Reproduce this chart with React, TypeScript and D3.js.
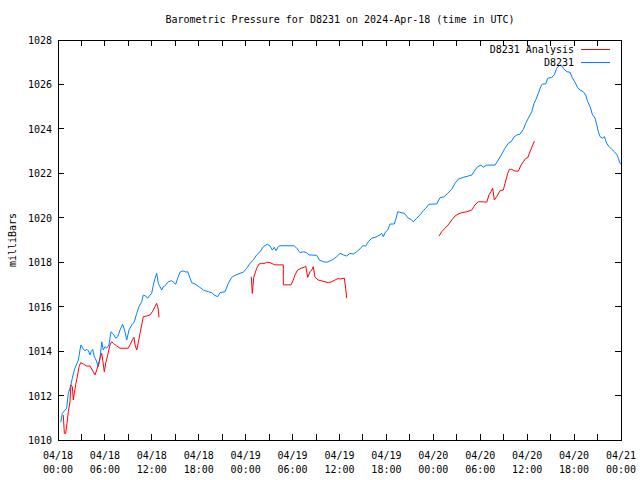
import React from 'react'
import * as d3 from 'd3'

// hours since 2024-04-18 00:00 UTC, station record
const stationHours = [
  0.35, 0.55, 0.9, 1.11, 1.32, 1.62, 1.83, 2.08, 2.39, 2.6, 2.81, 2.94, 3.24, 3.45, 3.71, 3.88, 4.09, 4.22, 4.44, 4.64,
  4.86, 5.15, 5.37, 5.59, 5.79, 6.01, 6.23, 6.52, 6.78, 7.07, 7.38, 7.64, 7.93, 8.27, 8.57, 8.79, 9.08, 9.43, 9.76, 10.07,
  10.36, 10.7, 10.91, 11.22, 11.47, 11.77, 11.98, 12.19, 12.41, 12.62, 12.83, 13.04, 13.26, 13.47, 13.59, 14.11, 14.54, 15.05, 15.31, 15.6,
  15.95, 16.33, 16.59, 16.88, 17.1, 17.52, 18.03, 18.58, 19.22, 19.66, 19.99, 20.42, 20.72, 21.36, 21.78, 22.21, 22.64, 23.28, 23.7, 24.13,
  24.55, 24.98, 25.41, 25.83, 26.26, 26.77, 27.11, 27.41, 27.66, 27.88, 28.17, 28.39, 30.22, 30.53, 30.95, 31.37, 31.81, 32.1, 33.09, 33.42,
  33.93, 34.36, 34.79, 35.21, 35.64, 36.07, 36.49, 36.92, 37.34, 37.77, 38.2, 38.62, 38.97, 39.35, 39.68, 40.12, 40.54, 40.89, 41.18, 41.4,
  41.6, 41.82, 42.17, 42.46, 43.01, 43.23, 43.45, 43.65, 44.29, 44.8, 45.15, 45.44, 45.87, 46.3, 46.72, 47.03, 47.45, 48.43, 48.85, 49.4,
  49.84, 50.35, 50.77, 51.19, 51.83, 52.47, 52.91, 53.33, 53.67, 54.1, 54.39, 54.83, 55.89, 56.31, 56.75, 57.17, 57.59, 57.93, 58.36, 58.66,
  59.09, 59.51, 59.81, 60.15, 60.58, 60.88, 61.13, 61.43, 61.73, 61.94, 62.37, 62.63, 63.14, 63.47, 63.78, 64.2, 64.42, 64.62, 65.06, 65.48,
  65.77, 66.12, 66.46, 66.76, 67.18, 67.49, 67.74, 68.04, 68.33, 68.68, 68.9, 69.1, 69.32, 69.61, 69.87, 70.17, 70.47, 70.81, 71.15, 71.45,
  71.66, 71.87, 72.0,
]
const stationPressure = [
  1010.8, 1011.2, 1011.35, 1011.43, 1012.1, 1012.43, 1012.78, 1013.15, 1013.42, 1013.6, 1014.05, 1014.28, 1014.08, 1014.02, 1014.08, 1014.02, 1013.83, 1013.97, 1014.08, 1013.75,
  1013.6, 1013.3, 1013.68, 1014.42, 1014.05, 1014.2, 1014.13, 1014.28, 1014.87, 1014.77, 1014.58, 1014.65, 1014.95, 1015.21, 1014.87, 1014.5, 1014.95, 1015.18, 1015.32, 1015.7,
  1016.0, 1016.22, 1016.52, 1016.48, 1016.38, 1016.52, 1016.6, 1016.97, 1017.27, 1017.5, 1017.05, 1016.9, 1016.75, 1016.9, 1016.9, 1017.12, 1017.17, 1017.01, 1017.28, 1017.55,
  1017.61, 1017.56, 1017.57, 1017.28, 1017.08, 1017.02, 1016.9, 1016.75, 1016.67, 1016.63, 1016.52, 1016.45, 1016.63, 1016.67, 1017.05, 1017.32, 1017.41, 1017.5, 1017.55, 1017.73,
  1017.95, 1018.1, 1018.33, 1018.47, 1018.7, 1018.81, 1018.73, 1018.55, 1018.67, 1018.52, 1018.7, 1018.74, 1018.74, 1018.63, 1018.43, 1018.47, 1018.43, 1018.33, 1018.31, 1018.1,
  1018.02, 1018.0, 1018.06, 1018.13, 1018.25, 1018.4, 1018.33, 1018.28, 1018.4, 1018.37, 1018.47, 1018.6, 1018.74, 1018.73, 1018.92, 1019.08, 1019.12, 1019.18, 1019.23, 1019.3,
  1019.15, 1019.33, 1019.45, 1019.72, 1019.72, 1019.98, 1020.27, 1020.25, 1020.2, 1019.98, 1019.93, 1019.82, 1019.98, 1020.13, 1020.32, 1020.43, 1020.61, 1020.62, 1020.9, 1020.95,
  1021.1, 1021.28, 1021.55, 1021.74, 1021.82, 1021.88, 1021.92, 1022.15, 1022.3, 1022.37, 1022.27, 1022.37, 1022.37, 1022.6, 1022.87, 1023.13, 1023.35, 1023.42, 1023.65, 1023.72,
  1023.77, 1023.98, 1024.25, 1024.48, 1024.77, 1025.15, 1025.33, 1025.6, 1025.9, 1026.02, 1026.02, 1026.28, 1026.32, 1026.43, 1026.73, 1026.88, 1026.84, 1026.73, 1026.57, 1026.55,
  1026.3, 1026.1, 1025.85, 1025.75, 1025.67, 1025.52, 1025.22, 1025.0, 1024.66, 1024.48, 1024.18, 1023.87, 1023.65, 1023.58, 1023.65, 1023.35, 1023.2, 1023.08, 1022.97, 1022.86,
  1022.68, 1022.45, 1022.41,
]

// analysis record, null marks a gap between runs
const analysisHours = [
  0.68, 0.81, 0.98, 1.15, 1.32, 1.53, 1.66, 1.83, 1.96, 2.08, 2.26, 2.47, 2.69, 2.9, 3.24, 3.67, 4.09, 4.39, 4.73, 4.95,
  5.15, 5.37, 5.59, 5.72, 5.92, 6.1, 6.36, 6.65, 6.87, 7.07, 7.51, 7.93, 8.99, 9.21, 9.5, 9.72, 9.85, 10.07, 10.27, 10.49,
  10.7, 10.91, 11.34, 11.77, 12.06, 12.41, 12.62, 12.75, 12.83, 12.92,
  null,
  24.72, 24.85, 25.03, 25.41, 25.71, 26.05, 26.47, 26.69, 27.11, 27.54, 27.75, 28.81, 28.82, 29.8, 30.09, 30.31, 30.65, 31.08, 31.5, 31.68,
  31.93, 32.23, 32.45, 32.65, 32.87, 33.29, 33.72, 34.15, 34.57, 35.0, 35.43, 35.77, 36.19, 36.62, 36.79, 36.92,
  null,
  48.73, 49.07, 49.49, 49.91, 50.35, 50.77, 51.19, 51.63, 52.27, 52.91, 53.33, 53.75, 54.39, 54.83, 55.12, 55.38, 55.59, 55.8, 56.1, 56.53,
  56.95, 57.17, 57.51, 57.72, 58.02, 58.45, 58.87, 59.21, 59.51, 59.81, 60.07, 60.36, 60.66, 60.92,
]
const analysisPressure = [
  1011.12, 1010.3, 1010.3, 1010.75, 1011.27, 1011.72, 1012.48, 1012.4, 1011.8, 1012.1, 1012.48, 1012.85, 1013.3, 1013.48, 1013.42, 1013.33, 1013.33, 1013.15, 1012.93, 1013.15,
  1013.38, 1013.68, 1013.9, 1013.6, 1013.07, 1013.45, 1013.83, 1014.28, 1014.42, 1014.35, 1014.23, 1014.13, 1014.13, 1014.28, 1014.5, 1014.62, 1014.28, 1014.05, 1014.38, 1014.8,
  1015.18, 1015.55, 1015.58, 1015.63, 1015.77, 1016.0, 1016.15, 1016.0, 1015.85, 1015.52,
  null,
  1017.34, 1016.6, 1017.32, 1017.73, 1017.92, 1017.95, 1017.95, 1018.0, 1017.98, 1017.91, 1017.88, 1017.88, 1016.98, 1016.98, 1017.2, 1017.43, 1017.65, 1017.73, 1017.77, 1017.83,
  1017.32, 1017.57, 1017.65, 1017.8, 1017.32, 1017.2, 1017.16, 1017.12, 1017.08, 1017.12, 1017.2, 1017.26, 1017.25, 1017.28, 1016.83, 1016.38,
  null,
  1019.18, 1019.37, 1019.53, 1019.68, 1019.9, 1020.08, 1020.17, 1020.23, 1020.27, 1020.35, 1020.58, 1020.72, 1020.72, 1020.7, 1021.03, 1021.18, 1021.33, 1020.8, 1020.95, 1021.22,
  1021.25, 1021.55, 1022.0, 1022.18, 1022.18, 1022.1, 1022.1, 1022.37, 1022.52, 1022.67, 1022.7, 1022.97, 1023.23, 1023.45,
]

const xTickHours = [0, 6, 12, 18, 24, 30, 36, 42, 48, 54, 60, 66, 72]
const xTickDays = ['04/18', '04/18', '04/18', '04/18', '04/19', '04/19', '04/19', '04/19', '04/20', '04/20', '04/20', '04/20', '04/21']
const xTickTimes = ['00:00', '06:00', '12:00', '18:00', '00:00', '06:00', '12:00', '18:00', '00:00', '06:00', '12:00', '18:00', '00:00']
const xMinorHours = d3.range(3, 72, 6)
const yTicks = [1010, 1012, 1014, 1016, 1018, 1020, 1022, 1024, 1026, 1028]

const W = 640
const H = 480
const margin = { top: 40, right: 19, bottom: 40, left: 58 }
const font = '"DejaVu Sans Mono", monospace'
const RED = '#ff0000'
const BLUE = '#0080ff'

export default function App() {
  const x = d3.scaleLinear().domain([0, 72]).range([margin.left, W - margin.right])
  const y = d3.scaleLinear().domain([1010, 1028]).range([H - margin.bottom, margin.top])
  const x0 = x.range()[0]
  const x1 = x.range()[1]
  const y0 = y.range()[0]
  const y1 = y.range()[1]
  const tick = 6

  const line = d3
    .line<[number | null, number | null]>()
    .defined((d) => d[0] !== null && d[1] !== null)
    .x((d) => x(d[0] as number))
    .y((d) => y(d[1] as number))

  const station = stationHours.map((h, i) => [h, stationPressure[i]] as [number, number])
  const analysis = analysisHours.map((h, i) => [h, analysisPressure[i]] as [number | null, number | null])

  const allX = [...xTickHours, ...xMinorHours]

  return (
    <svg
      width={W}
      height={H}
      style={{ position: 'absolute', left: 0, top: 0, background: '#fff' }}
      fontFamily={font}
      fontSize={10}
    >
      <text x={W / 2 + 20} y={23} textAnchor="middle">
        Barometric Pressure for D8231 on 2024-Apr-18 (time in UTC)
      </text>
      <text transform={`translate(16,${(y0 + y1) / 2}) rotate(-90)`} textAnchor="middle">
        milliBars
      </text>

      <g shapeRendering="crispEdges" stroke="#000" strokeWidth={1}>
        {allX.map((h) => (
          <g key={'x' + h}>
            <line x1={x(h)} x2={x(h)} y1={y0} y2={y0 - tick} />
            <line x1={x(h)} x2={x(h)} y1={y1} y2={y1 + tick} />
          </g>
        ))}
        {yTicks.map((v) => (
          <g key={'y' + v}>
            <line x1={x0} x2={x0 + tick} y1={y(v)} y2={y(v)} />
            <line x1={x1} x2={x1 - tick} y1={y(v)} y2={y(v)} />
          </g>
        ))}
        <rect x={x0} y={y1} width={x1 - x0} height={y0 - y1} fill="none" />
      </g>

      {yTicks.map((v) => (
        <text key={'yl' + v} x={x0 - 6} y={y(v) + 4} textAnchor="end">
          {v}
        </text>
      ))}
      {xTickHours.map((h, i) => (
        <text key={'xl' + h} x={x(h)} textAnchor="middle">
          <tspan x={x(h)} y={y0 + 19}>{xTickDays[i]}</tspan>
          <tspan x={x(h)} y={y0 + 33}>{xTickTimes[i]}</tspan>
        </text>
      ))}

      <path d={line(station) ?? ''} fill="none" stroke={BLUE} strokeWidth={1} />
      <path d={line(analysis) ?? ''} fill="none" stroke={RED} strokeWidth={1} />

      <g>
        <text x={574} y={53} textAnchor="end">D8231 Analysis</text>
        <line x1={581} x2={610} y1={49.5} y2={49.5} stroke={RED} />
        <text x={574} y={66} textAnchor="end">D8231</text>
        <line x1={581} x2={610} y1={62.5} y2={62.5} stroke={BLUE} />
      </g>
    </svg>
  )
}
